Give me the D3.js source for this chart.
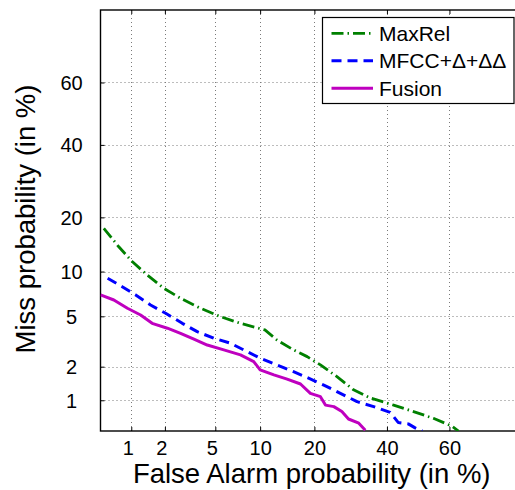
<!DOCTYPE html>
<html>
<head>
<meta charset="utf-8">
<script src="https://cdn.jsdelivr.net/npm/d3@7"></script>
<style>
html,body{margin:0;padding:0;background:#fff;}
svg{display:block;font-family:"Liberation Sans",Arial,sans-serif;}
</style>
</head>
<body>
<svg id="chart" width="515" height="490"></svg>
<script>
// ---- data (percent) ----
const xTickValues = [1, 2, 5, 10, 20, 40, 60];
const xTickLabels = ["1", "2", "5", "10", "20", "40", "60"];
const yTickValues = [1, 2, 5, 10, 20, 40, 60];
const yTickLabels = ["1", "2", "5", "10", "20", "40", "60"];
const seriesNames = ["MaxRel", "MFCC+\u0394+\u0394\u0394", "Fusion"];

const maxrelFA   = [0.54,0.76,1.02,1.40,1.96,2.70,3.88,5.45,7.48,10.7,12.6,15.6,18.4,21.4,25.5,30.0,34.9,42.1,48.5,54.9,60.8,62.8];
const maxrelMiss = [17.6,14.0,11.5,9.52,7.82,6.70,5.71,4.97,4.44,3.96,3.31,2.76,2.43,2.07,1.64,1.25,1.05,0.90,0.78,0.67,0.56,0.50];

const mfccFA   = [0.59,0.82,1.10,1.50,2.03,2.79,3.66,4.87,6.40,8.27,10.0,12.6,15.6,18.7,22.2,26.4,31.0,35.9,41.0,43.6,46.8,49.0,51.3];
const mfccMiss = [9.07,8.01,7.06,6.02,5.26,4.44,3.84,3.42,3.12,2.67,2.36,2.07,1.81,1.59,1.38,1.16,0.97,0.87,0.766,0.608,0.59,0.538,0.50];

const fusionFA   = [0.50,0.68,0.92,1.22,1.55,2.10,2.70,3.45,4.36,5.75,7.48,9.12,10.0,12.1,14.4,17.0,19.1,21.4,22.6,24.7,26.8,28.6,31.5,33.4];
const fusionMiss = [7.06,6.52,5.71,5.11,4.44,4.08,3.73,3.36,3.02,2.76,2.51,2.21,1.88,1.70,1.56,1.41,1.16,1.08,0.90,0.87,0.78,0.66,0.60,0.51];

const axisMinPct = 0.5, axisMaxPct = 80;

// inverse normal CDF (Acklam)
function probit(p){
  const a=[-3.969683028665376e+01,2.209460984245205e+02,-2.759285104469687e+02,1.383577518672690e+02,-3.066479806614716e+01,2.506628277459239e+00];
  const b=[-5.447609879822406e+01,1.615858368580409e+02,-1.556989798598866e+02,6.680131188771972e+01,-1.328068155288572e+01];
  const c=[-7.784894002430293e-03,-3.223964580411365e-01,-2.400758277161838e+00,-2.549671010114080e+00,4.374664141464968e+00,2.938163982698783e+00];
  const d=[7.784695709041462e-03,3.224671290700398e-01,2.445134137142996e+00,3.754408661907416e+00];
  const pl=0.02425, ph=1-pl;
  if(p<pl){const q=Math.sqrt(-2*Math.log(p));return (((((c[0]*q+c[1])*q+c[2])*q+c[3])*q+c[4])*q+c[5])/((((d[0]*q+d[1])*q+d[2])*q+d[3])*q+1);}
  if(p<=ph){const q=p-0.5,r=q*q;return (((((a[0]*r+a[1])*r+a[2])*r+a[3])*r+a[4])*r+a[5])*q/(((((b[0]*r+b[1])*r+b[2])*r+b[3])*r+b[4])*r+1);}
  const q=Math.sqrt(-2*Math.log(1-p));return -(((((c[0]*q+c[1])*q+c[2])*q+c[3])*q+c[4])*q+c[5])/((((d[0]*q+d[1])*q+d[2])*q+d[3])*q+1);
}
const pz = v => probit(v/100);

const svg = d3.select("#chart");
const L = 100.5, T = 10, B = 431, R = 522;

const x = d3.scaleLinear().domain([pz(axisMinPct), pz(axisMaxPct)]).range([L, R]);
const y = d3.scaleLinear().domain([pz(axisMinPct), pz(axisMaxPct)]).range([B, T]);

svg.append("defs").append("clipPath").attr("id","clip")
  .append("rect").attr("x",L).attr("y",T).attr("width",R-L).attr("height",B-T);

// grid
const grid = svg.append("g").attr("stroke","#7a7a7a").attr("stroke-width",1).attr("stroke-dasharray","1,3");
grid.selectAll(".gx").data(xTickValues).join("line")
  .attr("x1",d=>Math.round(x(pz(d)))+0.5).attr("x2",d=>Math.round(x(pz(d)))+0.5)
  .attr("y1",T).attr("y2",B);
grid.selectAll(".gy").data(yTickValues).join("line")
  .attr("y1",d=>Math.round(y(pz(d)))+0.5).attr("y2",d=>Math.round(y(pz(d)))+0.5)
  .attr("x1",L).attr("x2",R);

// axes
const xAxis = d3.axisBottom(x).tickValues(xTickValues.map(pz))
  .tickFormat((d,i)=>xTickLabels[i]).tickSizeInner(-4).tickSizeOuter(0);
const gx = svg.append("g").attr("transform",`translate(0,${B})`).call(xAxis);
gx.select(".domain").remove();
gx.selectAll(".tick line").attr("stroke","#000");
gx.selectAll(".tick text").attr("y",10).attr("dy","0.71em")
  .attr("dx",(d,i)=>xTickLabels[i].length===1?-3.5:0)
  .style("font-size","20px").style("font-family","'Liberation Sans',Arial,sans-serif").attr("fill","#000");

const xAxisTop = d3.axisTop(x).tickValues(xTickValues.map(pz)).tickFormat("").tickSizeInner(-4).tickSizeOuter(0);
const gxt = svg.append("g").attr("transform",`translate(0,${T})`).call(xAxisTop);
gxt.select(".domain").remove();

const yAxis = d3.axisLeft(y).tickValues(yTickValues.map(pz))
  .tickFormat((d,i)=>yTickLabels[i]).tickSizeInner(-4).tickSizeOuter(0);
const gy = svg.append("g").attr("transform",`translate(${L},0)`).call(yAxis);
gy.select(".domain").remove();
gy.selectAll(".tick text").attr("x",-29).attr("text-anchor","middle").attr("dy","0.34em")
  .style("font-size","20px").style("font-family","'Liberation Sans',Arial,sans-serif").attr("fill","#000");

// box (right side falls outside the canvas)
svg.append("rect").attr("x",L).attr("y",T).attr("width",R-L).attr("height",B-T)
  .attr("fill","none").attr("stroke","#000").attr("stroke-width",1.4);

// curves
const series = [
  {name:seriesNames[0], fa:maxrelFA, miss:maxrelMiss, color:"#008000", dash:"12,4,1.5,4", w:2.8},
  {name:seriesNames[1], fa:mfccFA,   miss:mfccMiss,   color:"#0000ff", dash:"10,6",       w:3},
  {name:seriesNames[2], fa:fusionFA, miss:fusionMiss, color:"#bf00bf", dash:null,         w:3}
];
const line = d3.line().x(d=>x(pz(d[0]))).y(d=>y(pz(d[1])));
const gc = svg.append("g").attr("clip-path","url(#clip)");
series.forEach(s=>{
  gc.append("path").datum(s.fa.map((v,i)=>[v,s.miss[i]]))
    .attr("d",line).attr("fill","none").attr("stroke",s.color)
    .attr("stroke-width",s.w).attr("stroke-dasharray",s.dash)
    .attr("stroke-linejoin","round");
});

// legend
const lg = svg.append("g");
lg.append("rect").attr("x",322.5).attr("y",17.5).attr("width",191.5).attr("height",86)
  .attr("fill","#fff").attr("stroke","#000").attr("stroke-width",1.2);
const legY = [33.3, 60.7, 88.3];
series.forEach((s,i)=>{
  lg.append("line").attr("x1",331.5).attr("x2",373).attr("y1",legY[i]).attr("y2",legY[i])
    .attr("stroke",s.color).attr("stroke-width",s.w).attr("stroke-dasharray",s.dash);
  lg.append("text").attr("x",379).attr("y",legY[i]+7.5).text(s.name)
    .style("font-size","21px").attr("fill","#000");
});

// axis titles
svg.append("text").attr("x",311.7).attr("y",483).attr("text-anchor","middle")
  .style("font-size","27.5px").text("False Alarm probability (in %)");
svg.append("text").attr("transform","translate(35,219) rotate(-90)").attr("text-anchor","middle")
  .style("font-size","27.5px").text("Miss probability (in %)");
</script>
</body>
</html>
